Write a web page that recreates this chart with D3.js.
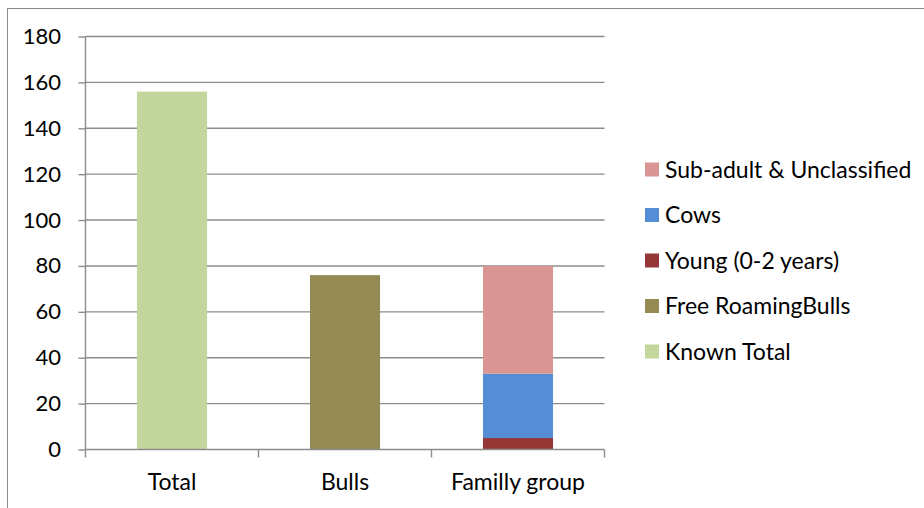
<!DOCTYPE html>
<html><head><meta charset="utf-8">
<script src="https://cdn.jsdelivr.net/npm/d3@7"></script>
<style>body{margin:0;background:#fff}svg{display:block}text{font-family:Lato,"Open Sans",sans-serif;fill:#000}</style>
</head><body><svg id="c" width="924" height="508"></svg>
<script>
const categories = ["Total", "Bulls", "Familly group"];
const seriesNames = ["Known Total", "Free RoamingBulls", "Young (0-2 years)", "Cows", "Sub-adult & Unclassified"];
const seriesColors = ["#C3D69B", "#948A54", "#953735", "#558ED5", "#D99694"];
const knownTotal = [156, 0, 0];
const freeRoamingBulls = [0, 76, 0];
const young = [0, 0, 5];
const cows = [0, 0, 28];
const subAdult = [0, 0, 47];
const yTicks = [0, 20, 40, 60, 80, 100, 120, 140, 160, 180];

const seriesValues = [knownTotal, freeRoamingBulls, young, cows, subAdult];
const data = categories.map((c, i) => {
  const o = {cat: c};
  seriesNames.forEach((s, j) => o[s] = seriesValues[j][i]);
  return o;
});
const stacked = d3.stack().keys(seriesNames)(data);

const svg = d3.select("#c");
const L = 85.5, R = 604.5, T = 36.5, B = 449.5;
svg.append("rect").attr("x", 7.5).attr("y", 8.5).attr("width", 940).attr("height", 520)
  .attr("fill", "none").attr("stroke", "#8a8a8a").attr("stroke-width", 1);

const x = d3.scaleBand().domain(categories).range([L, R]).padding(0);
const y = d3.scaleLinear().domain([0, 180]).range([B, T]);

// gridlines
svg.append("g").selectAll("line").data(yTicks.filter(d => d > 0)).join("line")
  .attr("x1", L).attr("x2", R).attr("y1", d => y(d)).attr("y2", d => y(d))
  .attr("stroke", "#8c8c8c").attr("stroke-width", 1.4);

// bars
const bw = x.bandwidth() * 0.405;
svg.append("g").selectAll("g").data(stacked).join("g")
  .attr("fill", (d, i) => seriesColors[i])
  .selectAll("rect").data(d => d).join("rect")
  .attr("x", d => x(d.data.cat) + x.bandwidth() / 2 - bw / 2)
  .attr("width", bw)
  .attr("y", d => y(d[1]))
  .attr("height", d => y(d[0]) - y(d[1]));

// y axis
const yAxis = d3.axisLeft(y).tickValues(yTicks).tickSize(7).tickPadding(17.5);
const gy = svg.append("g").attr("transform", `translate(${L},0)`).call(yAxis);
gy.select(".domain").attr("stroke", "#8c8c8c").attr("stroke-width", 1.4).attr("d", `M0,${T}V${B}`);
gy.selectAll(".tick line").attr("stroke", "#8c8c8c").attr("stroke-width", 1.4);
gy.selectAll("text").style("font-size", "22px").style("font-family", "Lato, sans-serif").attr("fill", "#000");

// x axis
const gx = svg.append("g").attr("transform", `translate(0,${B})`).call(d3.axisBottom(x).tickSize(0));
gx.select(".domain").attr("stroke", "#8c8c8c").attr("stroke-width", 1.4).attr("d", `M${L},0H${R}`);
gx.selectAll("text").attr("y", 40.5).attr("dy", null).style("font-size", "23px").style("font-family", "Lato, sans-serif").attr("fill", "#000");
const bounds = categories.map(c => x(c)).concat([R]);
svg.append("g").selectAll("line").data(bounds).join("line")
  .attr("x1", d => d).attr("x2", d => d).attr("y1", B).attr("y2", B + 8)
  .attr("stroke", "#8c8c8c").attr("stroke-width", 1.4);

// legend
const legendOrder = seriesNames.slice().reverse();
const lg = svg.append("g").selectAll("g").data(legendOrder).join("g")
  .attr("transform", (d, i) => `translate(645,${169.5 + i * 45.5})`);
lg.append("rect").attr("x", 0).attr("y", -7).attr("width", 14).attr("height", 14)
  .attr("fill", d => seriesColors[seriesNames.indexOf(d)]);
lg.append("text").attr("x", 20).attr("y", 0).attr("dy", "0.35em").style("font-size", "23px").text(d => d);
</script></body></html>
